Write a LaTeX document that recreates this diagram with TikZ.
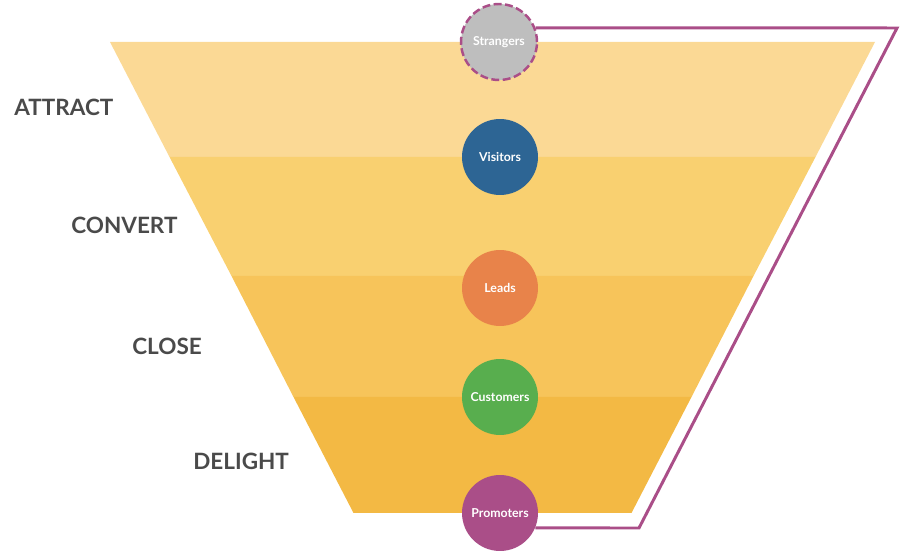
\documentclass[tikz,border=0pt]{standalone}
\usepackage{fontspec}
\setmainfont{Lato}

\definecolor{bandA}{HTML}{FBD995}
\definecolor{bandB}{HTML}{F9D070}
\definecolor{bandC}{HTML}{F7C45A}
\definecolor{bandD}{HTML}{F3B944}
\definecolor{labelgray}{HTML}{4A4A4A}
\definecolor{plum}{HTML}{AA4E88}
\definecolor{stranger}{HTML}{BEBEBE}
\definecolor{visitor}{HTML}{2D6594}
\definecolor{lead}{HTML}{E8834A}
\definecolor{customer}{HTML}{58AE4E}

\begin{document}
\begin{tikzpicture}[x=0.02cm,y=-0.02cm,
  stage/.style={circle,minimum size=1.52cm,inner sep=0pt,text=white,
    font=\fontsize{7}{8}\selectfont\bfseries},
  phase/.style={anchor=west,inner sep=0pt,text=labelgray,
    font=\fontsize{12.8}{14}\selectfont\bfseries},
  loopline/.style={draw=plum,line width=1.7pt,line join=miter}]

  \useasboundingbox (0,0) rectangle (900,560);

  % Funnel bands
  \fill[bandA] (110,42) -- (875,42) -- (815.5,157) -- (169.5,157) -- cycle;
  \fill[bandB] (169.5,157) -- (815.5,157) -- (753.5,276) -- (231.5,276) -- cycle;
  \fill[bandC] (231.5,276) -- (753.5,276) -- (691.5,397) -- (293.5,397) -- cycle;
  \fill[bandD] (293.5,397) -- (691.5,397) -- (631.5,513) -- (353.5,513) -- cycle;

  % Phase labels
  \node[phase] (attract) at (14,107) {ATTRACT};
  \node[phase] (convert) at (71,225) {CONVERT};
  \node[phase] (close) at (132,346) {CLOSE};
  \node[phase] (delight) at (193,461) {DELIGHT};

  % Stages
  \node[stage,fill=stranger,draw=plum,line width=1.4pt,
    dash pattern=on 4.5pt off 2pt] (strangers) at (499,42) {Strangers};
  \node[stage,fill=visitor] (visitors) at (500,157) {Visitors};
  \node[stage,fill=lead] (leads) at (500,288) {Leads};
  \node[stage,fill=customer] (customers) at (500,397) {Customers};
  \node[stage,fill=plum] (promoters) at (500,513) {Promoters};

  % Loop back from promoters to strangers
  \coordinate (looptop) at (897,28);
  \coordinate (loopbottom) at (639,528);
  \draw[loopline] (strangers.21) -- (looptop) -- (loopbottom) -- (promoters.-23);

\end{tikzpicture}
\end{document}
